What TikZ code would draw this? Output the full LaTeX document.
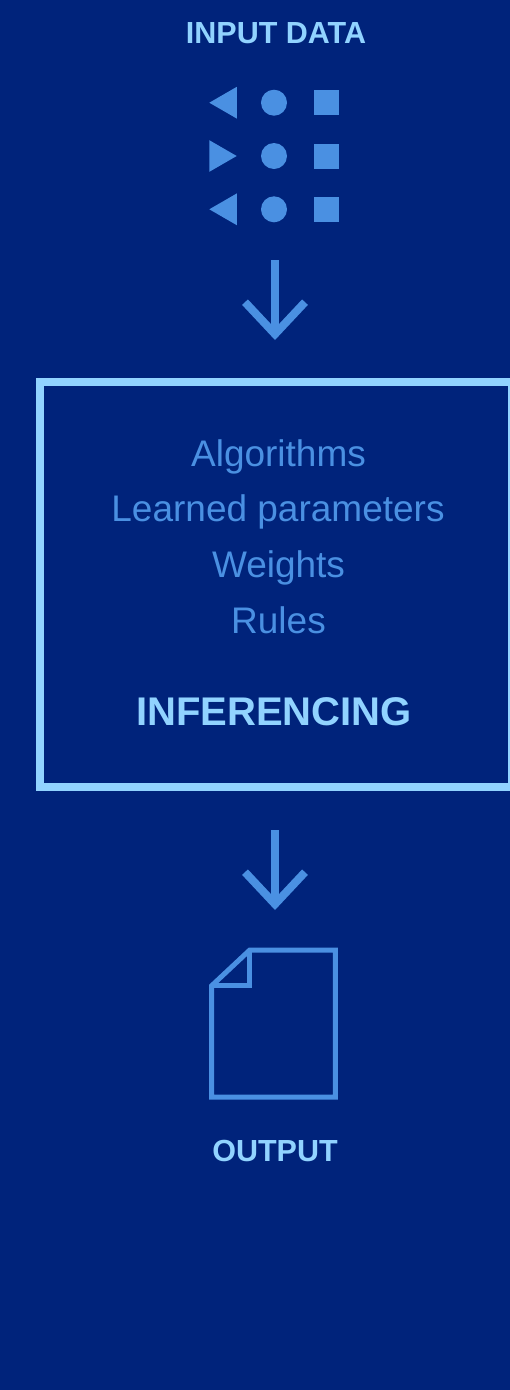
\documentclass[tikz,border=0pt]{standalone}
\usepackage{fontspec}
\setmainfont{Liberation Sans}
\usetikzlibrary{arrows.meta,shapes.geometric}
\definecolor{navy}{HTML}{00237B}
\definecolor{midblue}{HTML}{4A90E2}
\definecolor{lightblue}{HTML}{91D3FF}

\begin{document}
\begin{tikzpicture}[x=1pt, y=-1pt, >={Straight Barb[length=32pt,width=60pt]}, node distance=53.3pt]
    \tikzstyle{shapes} = [fill=midblue, draw=none, inner sep=0pt]
    \tikzstyle{dot} = [shapes, circle, minimum size=26pt]
    \tikzstyle{tile} = [shapes, rectangle, minimum size=25pt]
    \tikzstyle{tri} = [shapes, regular polygon, regular polygon sides=3, minimum size=36.6pt]
    \tikzstyle{flow} = [->, midblue, line width=8pt]
    \tikzstyle{body} = [midblue, anchor=base, font=\fontsize{37}{37}\selectfont]
    \tikzstyle{title} = [lightblue, anchor=base, font=\fontsize{30.5}{30.5}\selectfont\bfseries]

    \useasboundingbox[fill=navy] (0,0) rectangle (510,1390);

    % input symbols
    \path
      node[dot] (C1) at (274,102.7) {}
      node[dot, below of=C1] (C2) {}
      node[dot, below of=C2] (C3) {}
      node[tile, right of=C1, node distance=52.5pt] (S1) {}
      node[tile, right of=C2, node distance=52.5pt] (S2) {}
      node[tile, right of=C3, node distance=52.5pt] (S3) {}
      node[tri, shape border rotate=90, left of=C1, node distance=46.4pt] (T1) {}
      node[tri, shape border rotate=-90, left of=C2, node distance=55.6pt] (T2) {}
      node[tri, shape border rotate=90, left of=C3, node distance=46.4pt] (T3) {};

    \node[title] (input) at (276,43.3) {INPUT DATA};

    % box
    \node[draw=lightblue, line width=8pt, rectangle, inner sep=0pt, minimum width=472.5pt, minimum height=404.7pt] (box) at (275.75,584.65) {};
    \node[body] (algo) at (278.5,466) {Algorithms};
    \node[body] (learned) at (278,521) {Learned parameters};
    \node[body] (weights) at (278.5,577) {Weights};
    \node[body] (rules) at (278.5,633) {Rules};
    \node[title, font=\fontsize{40}{40}\selectfont\bfseries] (infer) at (274,725.3) {INFERENCING};

    % arrows
    \coordinate (top1) at (275,260);
    \coordinate (tip1) at (275,340);
    \coordinate (top2) at (275,830);
    \coordinate (tip2) at (275,910);
    \draw[flow] (top1) -- (tip1);
    \draw[flow] (top2) -- (tip2);

    % output page
    \coordinate (P1) at (249.8,950);
    \coordinate (P2) at (335.3,950);
    \coordinate (P3) at (335.3,1097);
    \coordinate (P4) at (211.7,1097);
    \coordinate (P5) at (211.7,985.7);
    \coordinate (P6) at (249.8,985.7);
    \draw[midblue, line width=5pt, line join=miter] (P1) -- (P2) -- (P3) -- (P4) -- (P5) -- cycle;
    \draw[midblue, line width=5pt] (P5) -- (P6) -- (P1);

    \node[title] (output) at (275,1161) {OUTPUT};
\end{tikzpicture}
\end{document}
